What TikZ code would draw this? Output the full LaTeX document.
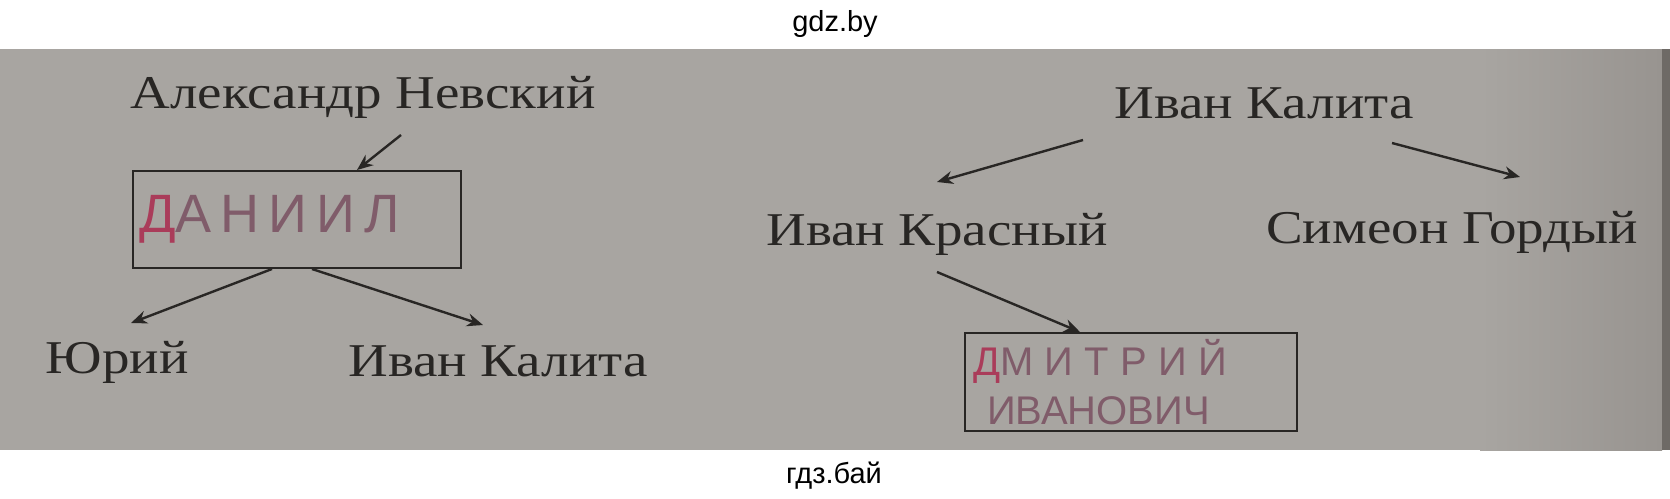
\documentclass[tikz,border=0pt]{standalone}
\usepackage{fontspec}
\setmainfont{Liberation Serif}
\newfontfamily\bookfont[FakeStretch=1.17]{Liberation Serif}
\newfontfamily\handfont{Liberation Sans}
\newfontfamily\markfont{Liberation Sans}
\usetikzlibrary{positioning,arrows.meta}
\definecolor{paper}{RGB}{168,165,161}
\definecolor{papershade}{RGB}{152,148,144}
\definecolor{gutter}{RGB}{110,106,102}
\definecolor{ink}{RGB}{40,38,36}
\definecolor{pen}{RGB}{128,92,106}
\definecolor{penred}{RGB}{170,60,90}
\tikzset{%
  every prince/.style={
    font=\bookfont\fontsize{23.5}{26}\selectfont,
    text=ink,
    anchor=base,
    inner sep=0pt
  },
  prince answer/.style={
    draw=ink,
    line width=1pt,
    anchor=center,
    align=left,
    inner xsep=3pt,
    font=\handfont\fontsize{27}{30}\selectfont,
    text=pen
  },
  descent/.style={
    ->,
    draw=ink,
    line width=1.2pt
  },
}

\begin{document}
\begin{tikzpicture}[x=0.5pt, y=-0.5pt, >={Stealth[length=8pt,width=6.5pt]}]

        % photo
        \useasboundingbox (0,0) rectangle (1670,498);
        \fill [paper] (0,49) rectangle (1670,450);
        \shade [left color=paper, right color=papershade] (1480,49) rectangle (1662,450);
        \fill [gutter] (1662,49) rectangle (1670,450);

        % watermarks
        \node [font=\markfont\fontsize{14.5}{17}\selectfont, anchor=base] (gdz-1) at (835,32) {gdz.by};
        \node [font=\markfont\fontsize{14.5}{17}\selectfont, anchor=base] (gdz-2) at (834,483) {гдз.бай};

        % names
        \foreach \n/\t/\x/\y in {nevsky/Александр Невский/363/108, yuri/Юрий/117/373,
          kalita-1/Иван Калита/498/376, kalita-2/Иван Калита/1264/118,
          krasny/Иван Красный/937/245, simeon/Симеон Гордый/1452/243}
        \node [every prince/.try] (\n) at (\x,\y) {\t};

        % answers
        \node [every prince/.try, prince answer/.try, minimum width=164pt,
          minimum height=48.5pt, text width=158pt] (daniil) at (297,219.5)
          {\addfontfeature{LetterSpace=17}{\color{penred}Д}АНИИЛ};
        \node [every prince/.try, prince answer/.try, minimum width=166pt,
          minimum height=49pt, text width=158pt, inner xsep=4pt,
          font=\handfont\fontsize{20}{24.5}\selectfont] (dmitry) at (1131,382)
          {{\addfontfeature{LetterSpace=28}{\color{penred}Д}МИТРИЙ}\\\hspace*{7pt}ИВАНОВИЧ};

        % arrows
        \draw [descent] ([xshift=19pt, yshift=-13.5pt]nevsky.base) -- ([xshift=30pt]daniil.north);
        \draw [descent] ([xshift=-12.5pt]daniil.south) -- ([xshift=7pt, yshift=25pt]yuri.base);
        \draw [descent] ([xshift=7.5pt]daniil.south) -- ([xshift=-7.5pt, yshift=25.5pt]kalita-1.base);
        \draw [descent] ([xshift=-90.5pt, yshift=-11pt]kalita-2.base) -- ([yshift=31.5pt]krasny.base);
        \draw [descent] ([xshift=64pt, yshift=-12.5pt]kalita-2.base) -- ([xshift=34pt, yshift=33pt]simeon.base);
        \draw [descent] ([yshift=-13.5pt]krasny.base) -- ([xshift=-25.5pt]dmitry.north);

\end{tikzpicture}
\end{document}
